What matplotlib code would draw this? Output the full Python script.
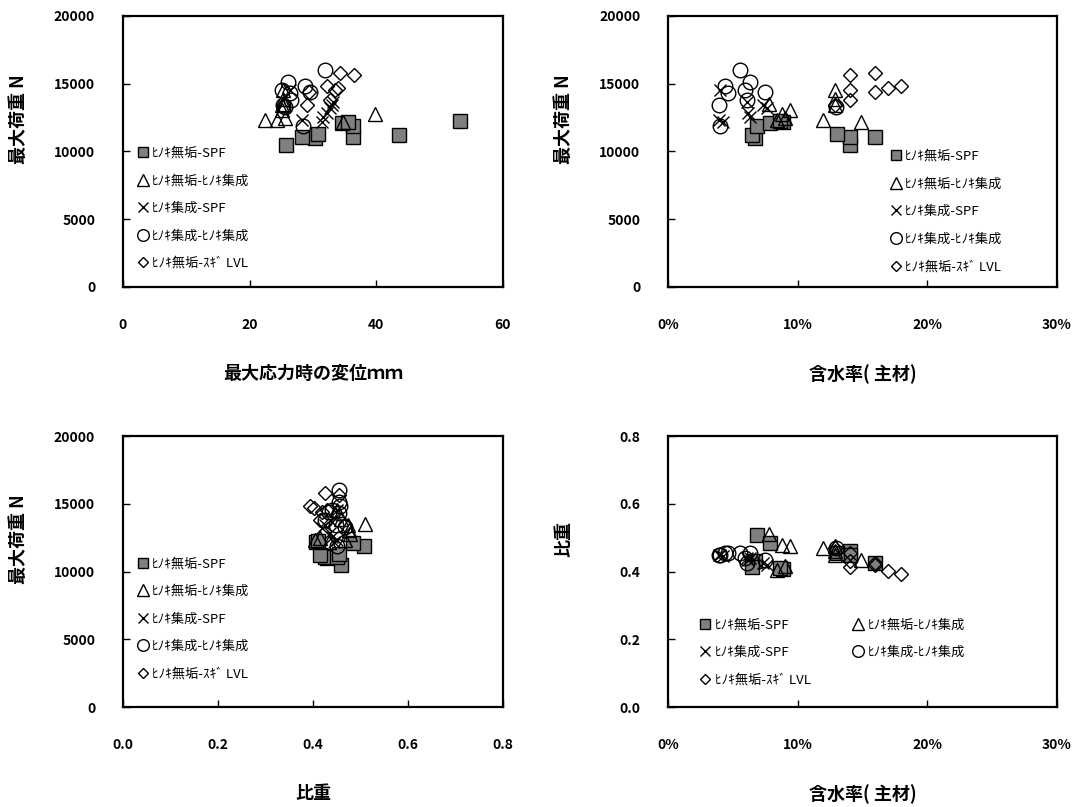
import numpy as np
import matplotlib.pyplot as plt
from matplotlib.ticker import PercentFormatter, FormatStrFormatter

plt.rcParams['font.family'] = ['Noto Sans CJK JP', 'DejaVu Sans']

labels = ['ﾋﾉｷ無垢-SPF', 'ﾋﾉｷ無垢-ﾋﾉｷ集成', 'ﾋﾉｷ集成-SPF', 'ﾋﾉｷ集成-ﾋﾉｷ集成', 'ﾋﾉｷ無垢-ｽｷﾞ LVL']

# 最大荷重 N / 最大応力時の変位 mm / 含水率 % / 比重
load_a = [10450, 10970, 11040, 11060, 11220, 11320, 11850, 12080, 12200, 12250]
disp_a = [25.8, 30.3, 28.2, 36.4, 43.6, 30.8, 36.4, 34.6, 35.5, 53.2]
mc_a = [14.0, 6.7, 16.0, 14.0, 6.45, 13.0, 6.84, 7.86, 8.84, 8.6]
sg_a = [0.46, 0.43, 0.426, 0.45, 0.414, 0.454, 0.508, 0.485, 0.406, 0.41]

load_b = [12200, 12320, 12320, 12450, 12750, 13060, 13500, 13430, 13850, 14540]
disp_b = [34.8, 22.4, 24.3, 25.6, 39.8, 25.1, 25.5, 25.1, 25.3, 25.2]
mc_b = [14.9, 8.4, 11.98, 9.0, 8.77, 9.4, 7.8, 12.9, 12.9, 12.9]
sg_b = [0.434, 0.404, 0.468, 0.415, 0.478, 0.475, 0.51, 0.474, 0.46, 0.45]

load_c = [12200, 12320, 12570, 12820, 13190, 13430, 13680, 14560]
disp_c = [31.4, 28.2, 31.6, 32.2, 32.7, 33.0, 33.2, 26.4]
mc_c = [4.27, 3.9, 6.3, 6.2, 7.6, 7.35, 6.07, 4.0]
sg_c = [0.445, 0.45, 0.44, 0.435, 0.42, 0.425, 0.44, 0.45]

load_d = [11900, 13430, 13800, 14290, 14410, 14540, 14800, 15150, 16010, 13310]
disp_d = [28.5, 25.3, 26.6, 26.4, 29.5, 25.1, 28.7, 26.1, 31.9, 25.6]
mc_d = [4.0, 3.9, 6.07, 4.65, 7.5, 5.9, 4.4, 6.3, 5.55, 12.95]
sg_d = [0.45, 0.448, 0.425, 0.455, 0.433, 0.44, 0.456, 0.455, 0.454, 0.468]

load_e = [15770, 15650, 14860, 14660, 14540, 14410, 13800, 13430]
disp_e = [34.3, 36.5, 32.2, 34.0, 33.5, 29.3, 32.7, 29.0]
mc_e = [15.96, 14.03, 17.97, 16.99, 14.03, 15.96, 14.03, 12.9]
sg_e = [0.425, 0.455, 0.393, 0.402, 0.43, 0.418, 0.414, 0.468]

series = [
    dict(load=load_a, disp=disp_a, mc=mc_a, sg=sg_a, marker='s', ms=9.5, fc='#808080'),
    dict(load=load_b, disp=disp_b, mc=mc_b, sg=sg_b, marker='^', ms=10, fc='none'),
    dict(load=load_c, disp=disp_c, mc=mc_c, sg=sg_c, marker='x', ms=8.5, fc='none'),
    dict(load=load_d, disp=disp_d, mc=mc_d, sg=sg_d, marker='o', ms=10.5, fc='none'),
    dict(load=load_e, disp=disp_e, mc=mc_e, sg=sg_e, marker='D', ms=7, fc='none'),
]

fig = plt.figure(figsize=(10.74, 8.07), dpi=100)

label_font = dict(size=13, weight='bold')
leg_kw = dict(frameon=False, fontsize=9.5, handletextpad=0.1, labelspacing=1.1,
              handlelength=1.2, markerscale=0.8)


def panel(rect, xkey, ykey):
    ax = fig.add_axes(rect)
    handles = []
    for s in series:
        h, = ax.plot(s[xkey], s[ykey], ls='none', marker=s['marker'], ms=s['ms'],
                     mfc=s['fc'], mec='black', mew=1.0, color='black')
        handles.append(h)
    for sp in ax.spines.values():
        sp.set_linewidth(1.6)
    ax.tick_params(direction='in', length=5, width=1, top=False, right=False,
                   labelsize=10)
    ax.tick_params(axis='x', pad=22)
    ax.tick_params(axis='y', pad=20)
    return ax, handles


W1, W2, H = 0.3538, 0.3622, 0.3358
x1, x2 = 0.1145, 0.622
yt, yb = 0.6444, 0.1239

# top left
ax1, hs = panel([x1, yt, W1, H], 'disp', 'load')
ax1.set_xlim(0, 60)
ax1.set_ylim(0, 20000)
ax1.set_xticks([0, 20, 40, 60])
ax1.set_yticks([0, 5000, 10000, 15000, 20000])
ax1.set_xlabel('最大応力時の変位ｍｍ', **label_font)
ax1.set_ylabel('最大荷重 N', **label_font)
ax1.legend(hs, labels, loc='upper left', bbox_to_anchor=(0.0, 0.561), **leg_kw)

# top right
ax2, hs = panel([x2, yt, W2, H], 'mc', 'load')
ax2.set_xlim(0, 30)
ax2.set_ylim(0, 20000)
ax2.set_xticks([0, 10, 20, 30])
ax2.set_yticks([0, 5000, 10000, 15000, 20000])
ax2.xaxis.set_major_formatter(PercentFormatter(xmax=100, decimals=0))
ax2.set_xlabel('含水率( 主材)', **label_font)
ax2.set_ylabel('最大荷重 N', **label_font)
ax2.legend(hs, labels, loc='upper left', bbox_to_anchor=(0.535, 0.549), **leg_kw)

# bottom left
ax3, hs = panel([x1, yb, W1, H], 'sg', 'load')
ax3.set_xlim(0, 0.8)
ax3.set_ylim(0, 20000)
ax3.set_xticks([0, 0.2, 0.4, 0.6, 0.8])
ax3.set_yticks([0, 5000, 10000, 15000, 20000])
ax3.xaxis.set_major_formatter(FormatStrFormatter('%.1f'))
ax3.set_xlabel('比重', **label_font)
ax3.set_ylabel('最大荷重 N', **label_font)
ax3.legend(hs, labels, loc='upper left', bbox_to_anchor=(0.0, 0.596), **leg_kw)

# bottom right
ax4, hs = panel([x2, yb, W2, H], 'mc', 'sg')
ax4.set_xlim(0, 30)
ax4.set_ylim(0, 0.8)
ax4.set_xticks([0, 10, 20, 30])
ax4.set_yticks([0, 0.2, 0.4, 0.6, 0.8])
ax4.xaxis.set_major_formatter(PercentFormatter(xmax=100, decimals=0))
ax4.yaxis.set_major_formatter(FormatStrFormatter('%.1f'))
ax4.set_xlabel('含水率( 主材)', **label_font)
ax4.set_ylabel('比重', **label_font)
order = [0, 2, 4, 1, 3]
ax4.legend([hs[i] for i in order], [labels[i] for i in order], loc='upper left',
           bbox_to_anchor=(0.045, 0.371), ncol=2, columnspacing=3.0, **leg_kw)

for ax in (ax1, ax2, ax3, ax4):
    for t in ax.get_xticklabels() + ax.get_yticklabels():
        t.set_fontweight('bold')

for ax, yl_x in ((ax1, -0.25), (ax3, -0.25), (ax2, -0.244), (ax4, -0.244)):
    ax.yaxis.set_label_coords(yl_x, 0.62)
    ax.xaxis.set_label_coords(0.5, -0.285)

fig.savefig('out.png', dpi=100)
